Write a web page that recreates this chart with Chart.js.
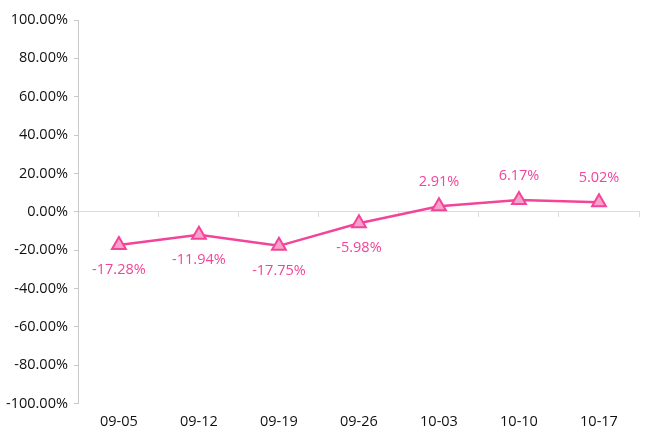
<!DOCTYPE html>
<html>
<head>
<meta charset="utf-8">
<script src="https://cdn.jsdelivr.net/npm/chart.js@4.4.1/dist/chart.umd.min.js"></script>
<style>
  html, body { margin: 0; padding: 0; background: #fff; }
  #wrap { width: 650px; height: 440px; }
</style>
</head>
<body>
<div id="wrap"><canvas id="chart"></canvas></div>
<script>
// Weekly dates and their change values (%)
const weeks = ["09-05", "09-12", "09-19", "09-26", "10-03", "10-10", "10-17"];
const changes = [-17.28, -11.94, -17.75, -5.98, 2.91, 6.17, 5.02];

const lineColor = "#f2449a";
const fontFamily = "'Open Sans', 'Noto Sans', sans-serif";

// Draws value labels above positive points and below negative ones
const valueLabels = {
  id: "valueLabels",
  afterDatasetsDraw(chart) {
    const ctx = chart.ctx;
    const meta = chart.getDatasetMeta(0);
    ctx.save();
    ctx.font = "14.5px " + fontFamily;
    ctx.fillStyle = lineColor;
    ctx.textAlign = "center";
    ctx.textBaseline = "middle";
    meta.data.forEach((pt, i) => {
      const v = changes[i];
      const y = v >= 0 ? pt.y - 24 : pt.y + 25;
      ctx.fillText(v.toFixed(2) + "%", pt.x, y);
    });
    ctx.restore();
  }
};

new Chart(document.getElementById("chart"), {
  type: "line",
  data: {
    labels: weeks,
    datasets: [{
      data: changes,
      borderColor: lineColor,
      borderWidth: 2.5,
      pointStyle: "triangle",
      pointRadius: 8,
      pointHoverRadius: 8,
      pointBackgroundColor: "#f7a3c9",
      pointBorderColor: lineColor,
      pointBorderWidth: 2,
      tension: 0
    }]
  },
  options: {
    responsive: true,
    maintainAspectRatio: false,
    animation: false,
    layout: { padding: { top: 20, right: 11, bottom: 7, left: 0 } },
    plugins: {
      legend: { display: false },
      tooltip: { enabled: false }
    },
    scales: {
      x: {
        offset: true,
        grid: { display: false },
        border: { display: false },
        ticks: {
          color: "#111",
          font: { family: fontFamily, size: 14.5 },
          padding: 2,
          maxRotation: 0
        }
      },
      // Axis line sitting on the zero value with category separators
      xZero: {
        type: "category",
        labels: weeks,
        position: { y: 0 },
        offset: true,
        grid: {
          offset: true,
          drawOnChartArea: false,
          tickLength: 5,
          color: "#dcdcdc"
        },
        border: { color: "#dcdcdc" },
        ticks: { display: false }
      },
      y: {
        min: -100,
        max: 100,
        ticks: {
          stepSize: 20,
          color: "#111",
          font: { family: fontFamily, size: 14.5 },
          padding: 6,
          callback: v => v.toFixed(2) + "%"
        },
        grid: {
          drawOnChartArea: false,
          tickLength: 5,
          color: "#c8c8c8"
        },
        border: { color: "#c8c8c8" }
      }
    }
  },
  plugins: [valueLabels]
});
</script>
</body>
</html>
